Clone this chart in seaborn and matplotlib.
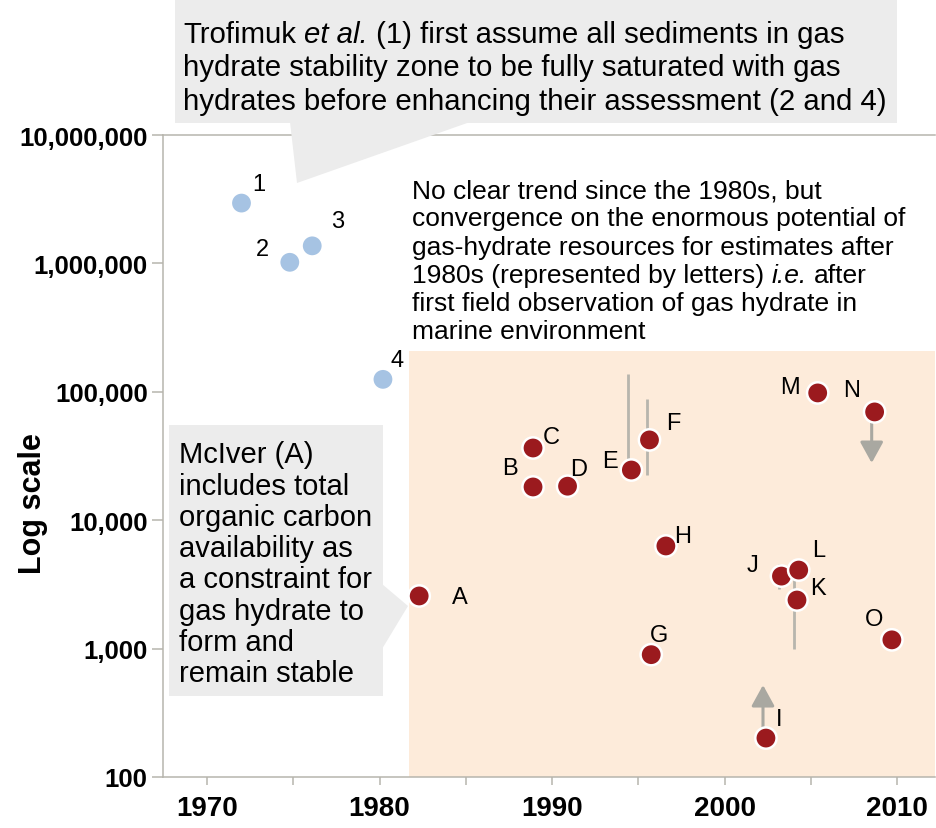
import pandas as pd
import seaborn as sns
from matplotlib import pyplot as plt
from matplotlib.patches import Rectangle, Polygon
from matplotlib.ticker import FuncFormatter, NullLocator

# early estimates (numbers) and post-1980 estimates (letters)
early_labels = ["1", "2", "3", "4"]
early_years = [1972.0, 1974.8, 1976.1, 1980.2]
early_values = [2950000, 1020000, 1370000, 125000]

late_labels = ["A", "B", "C", "D", "E", "F", "G", "H", "I", "J", "K", "L", "M", "N", "O"]
late_years = [1982.3, 1988.9, 1988.9, 1990.9, 1994.6, 1995.65, 1995.75, 1996.6,
              2002.4, 2003.3, 2004.2, 2004.3, 2005.4, 2008.7, 2009.7]
late_values = [2570, 18150, 36500, 18400, 24600, 42200, 897, 6300,
               201, 3670, 2390, 4090, 98000, 69700, 1170]

# ranges of some estimates (low, high)
range_labels = ["E", "F", "K", "J"]
range_low = [24600, 22500, 993, 2900]
range_high = [138000, 88000, 4810, 4810]

# estimates that are bounds (label, end of arrow)
arrow_labels = ["I", "N"]
arrow_ends = [520, 27900]

xticks_major = [1970, 1980, 1990, 2000, 2010]
xticks_minor = [1975, 1985, 1995, 2005]
yticks = [100, 1000, 10000, 100000, 1000000, 10000000]

# notes: each line is a list of (text, italic) runs
top_note = [
    [("Trofimuk", False), ("et al.", True), ("(1) first assume all sediments in gas", False)],
    [("hydrate stability zone to be fully saturated with gas", False)],
    [("hydrates before enhancing their assessment (2 and 4)", False)],
]
right_note = [
    [("No clear trend since the 1980s, but", False)],
    [("convergence on the enormous potential of", False)],
    [("gas-hydrate resources for estimates after", False)],
    [("1980s (represented by letters)", False), ("i.e.", True), ("after", False)],
    [("first field observation of gas hydrate in", False)],
    [("marine environment", False)],
]
mciver_note = [[(s, False)] for s in [
    "McIver (A)", "includes total", "organic carbon", "availability as",
    "a constraint for", "gas hydrate to", "form and", "remain stable"]]

# label offsets in pixels from each point
label_offsets = {
    "1": (17, 19), "2": (-27, 13), "3": (25, 25), "4": (14, 19),
    "A": (41, -1), "B": (-23, 19), "C": (18, 11), "D": (11, 17),
    "E": (-21, 9), "F": (24, 17), "G": (8, 20), "H": (17, 10),
    "I": (13, 19), "J": (-29, 11), "K": (21, 12), "L": (20, 20),
    "M": (-28, 6), "N": (-23, 22), "O": (-18, 21),
}

W, H = 936, 829
GREY = "#b7b5ad"
CALLOUT = "#ececec"
PEACH = "#fdebda"

sns.set_theme(style="ticks")
plt.rcParams["font.family"] = ["Liberation Sans", "DejaVu Sans"]
plt.rcParams["text.color"] = "black"
plt.rcParams["axes.labelcolor"] = "black"


def fx(px):
    return px / W


def fy(py):
    return 1 - py / H


df = pd.DataFrame({
    "year": early_years + late_years,
    "estimate": early_values + late_values,
    "label": early_labels + late_labels,
    "period": ["early"] * len(early_labels) + ["late"] * len(late_labels),
})

fig = plt.figure(figsize=(W / 100, H / 100), dpi=100)
ax = fig.add_axes([fx(163), fy(778), fx(935 - 163), (778 - 136) / H])
renderer = fig.canvas.get_renderer()


def draw_lines(x_px, base_px, step_px, lines, size):
    space = (fig.text(0, 0, "a a", fontsize=size).get_window_extent(renderer).width
             - fig.text(0, 0, "aa", fontsize=size).get_window_extent(renderer).width)
    for t in fig.texts[-2:]:
        t.remove()
    for i, runs in enumerate(lines):
        x = x_px
        for txt, italic in runs:
            t = fig.text(fx(x), fy(base_px + i * step_px), txt, fontsize=size,
                         style="italic" if italic else "normal",
                         ha="left", va="baseline", zorder=6)
            x += t.get_window_extent(renderer).width + space


ax.set_yscale("log")
ax.set_xlim(1967.45, 2012.2)
ax.set_ylim(100, 10000000)

ax.add_patch(Rectangle((1981.69, 100), 40, 208000 - 100, facecolor=PEACH,
                       edgecolor="none", zorder=0))

lookup = df.set_index("label")
for lab, lo, hi in zip(range_labels, range_low, range_high):
    yr = lookup.loc[lab, "year"] - 0.17
    ls = ":" if lab == "J" else "-"
    ax.vlines(yr, lo, hi, color=GREY, lw=2, linestyles=ls, zorder=1)

for lab, end in zip(arrow_labels, arrow_ends):
    yr = lookup.loc[lab, "year"] - 0.17
    ax.annotate("", xy=(yr, end), xytext=(yr, lookup.loc[lab, "estimate"]),
                arrowprops=dict(arrowstyle="-|>,head_length=0.4,head_width=0.22",
                                color="#a9a8a1", lw=2.2, mutation_scale=32,
                                shrinkA=0, shrinkB=0), zorder=1)

sns.scatterplot(data=df, x="year", y="estimate", hue="period",
                palette={"early": "#a6c3e3", "late": "#9b1a1e"},
                s=235, edgecolor="white", linewidth=1.8, legend=False,
                ax=ax, zorder=3)

for _, row in df.iterrows():
    dx, dy = label_offsets[row["label"]]
    ax.annotate(row["label"], (row["year"], row["estimate"]),
                xytext=(dx, dy), textcoords="offset pixels",
                ha="center", va="center", fontsize=17, color="black", zorder=4)

# axes styling
ax.set_xticks(xticks_major)
ax.set_xticks(xticks_minor, minor=True)
ax.set_yticks(yticks)
ax.yaxis.set_minor_locator(NullLocator())
ax.yaxis.set_major_formatter(FuncFormatter(lambda v, p: f"{int(round(v)):,}"))
ax.tick_params(axis="x", which="both", length=6, width=1.1, color=GREY,
               labelcolor="black", direction="out", pad=7)
ax.tick_params(axis="y", which="both", length=8, width=1.1, color=GREY,
               labelcolor="black", direction="out", pad=3)
for lbl in ax.get_xticklabels():
    lbl.set_fontweight("bold")
    lbl.set_fontsize(20)
for lbl in ax.get_yticklabels():
    lbl.set_fontweight("bold")
    lbl.set_fontsize(18.5)
ax.set_xlabel("")
ax.set_ylabel("Log scale", fontsize=22, fontweight="bold")
ax.yaxis.set_label_coords(-0.149, 0.427)
for side in ["left", "bottom", "top"]:
    ax.spines[side].set_color(GREY)
    ax.spines[side].set_linewidth(1.1)
ax.spines["right"].set_visible(False)

# top callout
fig.patches.append(Rectangle((fx(175), fy(124)), fx(897 - 175), 124 / H,
                             transform=fig.transFigure, facecolor=CALLOUT,
                             edgecolor="none", zorder=5))
fig.patches.append(Polygon([(fx(290), fy(123)), (fx(470), fy(123)), (fx(297), fy(184))],
                           closed=True, transform=fig.transFigure,
                           facecolor=CALLOUT, edgecolor="none", zorder=5))
draw_lines(183, 43, 33.5, top_note, 21.2)

# McIver callout
fig.patches.append(Rectangle((fx(169), fy(697)), fx(383 - 169), (697 - 426) / H,
                             transform=fig.transFigure, facecolor=CALLOUT,
                             edgecolor="none", zorder=5))
fig.patches.append(Polygon([(fx(382), fy(585)), (fx(408), fy(607)), (fx(382), fy(650))],
                           closed=True, transform=fig.transFigure,
                           facecolor=CALLOUT, edgecolor="none", zorder=5))
draw_lines(179, 463.5, 31.2, mciver_note, 21)

draw_lines(412, 198, 28.3, right_note, 19)

fig.savefig("out.png", dpi=100)
